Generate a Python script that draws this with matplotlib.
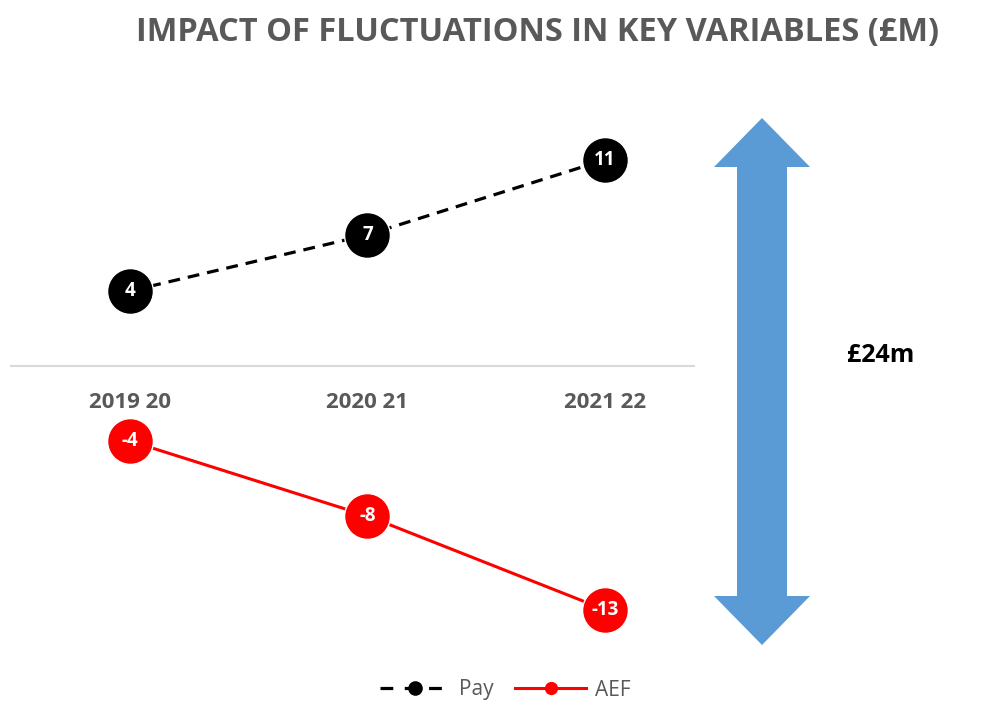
import matplotlib
matplotlib.use("Agg")
import matplotlib.pyplot as plt
from matplotlib.patches import Polygon
from matplotlib.lines import Line2D

categories = ["2019 20", "2020 21", "2021 22"]
pay = [4, 7, 11]
aef = [-4, -8, -13]
title = "IMPACT OF FLUCTUATIONS IN KEY VARIABLES (£M)"
range_label = "£24m"

plt.rcParams['font.family'] = ['Open Sans', 'DejaVu Sans']

W, H = 1006, 724
fig = plt.figure(figsize=(W / 100, H / 100), dpi=100)

def fx(px):
    return px / W

def fy(py):
    return 1 - py / H

ax = fig.add_axes([fx(10), fy(650), fx(695) - fx(10), fy(100) - fy(650)])
ax.set_xlim(-0.505, 2.379)
ax.set_ylim(-15.15, 14.19)
ax.axis('off')
ax.axhline(0, color='#d9d9d9', lw=1.5, zorder=1)

x = list(range(len(categories)))
ax.plot(x, pay, color='black', lw=2.3, ls=(0, (3.7, 2.5)), zorder=2)
ax.plot(x, pay, 'o', color='black', ms=33, mec='white', mew=1, zorder=3)
ax.plot(x, aef, color='#ff0000', lw=2.2, zorder=2)
ax.plot(x, aef, 'o', color='#ff0000', ms=33, mec='white', mew=1, zorder=3)

for xi, v in zip(x, pay):
    ax.text(xi, v, str(v), ha='center', va='center', color='white',
            fontsize=13.5, fontweight='bold', zorder=4)
for xi, v in zip(x, aef):
    ax.text(xi, v, str(v), ha='center', va='center', color='white',
            fontsize=13.5, fontweight='bold', zorder=4)

for xi, c in zip(x, categories):
    ax.annotate(c, (xi, 0), xytext=(0, -26), textcoords='offset points',
                ha='center', va='center', color='#595959', fontsize=16,
                fontweight='bold')

fig.text(fx(538), fy(32), title, ha='center', va='center', color='#595959',
         fontsize=23.5, fontweight='bold')

# double-headed arrow
cx = 762
top, bot = 118, 645
hw, sw, hh = 48, 25, 49
pts = [(cx, top), (cx + hw, top + hh), (cx + sw, top + hh), (cx + sw, bot - hh),
       (cx + hw, bot - hh), (cx, bot), (cx - hw, bot - hh), (cx - sw, bot - hh),
       (cx - sw, top + hh), (cx - hw, top + hh)]
fig.patches.append(Polygon([(fx(a), fy(b)) for a, b in pts], closed=True,
                           transform=fig.transFigure, facecolor='#5b9bd5',
                           edgecolor='none'))
fig.text(fx(881), fy(355), range_label, ha='center', va='center', color='black',
         fontsize=18, fontweight='bold')

handles = [
    Line2D([], [], color='black', lw=2.3, ls=(0, (4, 3.6)), marker='o', ms=9.5),
    Line2D([], [], color='#ff0000', lw=2.2, marker='o', ms=8.5),
]
fig.legend(handles, ['Pay', 'AEF'], loc='center', bbox_to_anchor=(fx(505), fy(690)),
           ncol=2, frameon=False, fontsize=15, labelcolor='#595959',
           handlelength=3.4, columnspacing=1.05, handletextpad=0.4)

fig.savefig('out.png', dpi=100, facecolor='white')
